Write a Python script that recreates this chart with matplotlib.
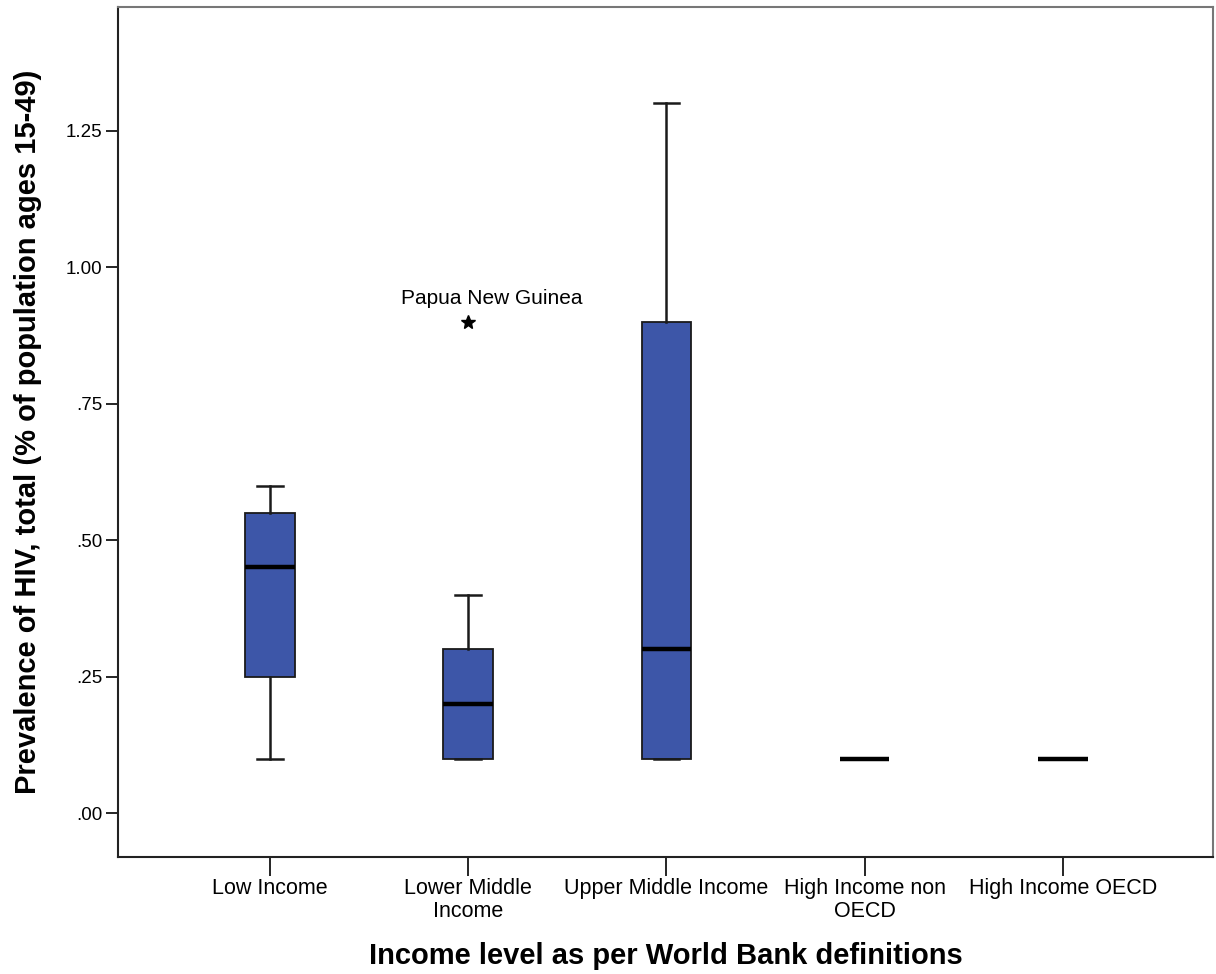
import matplotlib.pyplot as plt

# summary values
categories = ['Low Income', 'Lower Middle\nIncome', 'Upper Middle Income',
              'High Income non\nOECD', 'High Income OECD']
whislo = [0.10, 0.10, 0.10, 0.10, 0.10]
q1 = [0.25, 0.10, 0.10, 0.10, 0.10]
med = [0.45, 0.20, 0.30, 0.10, 0.10]
q3 = [0.55, 0.30, 0.90, 0.10, 0.10]
whishi = [0.60, 0.40, 1.30, 0.10, 0.10]
outliers = [[], [0.90], [], [], []]
outlier_labels = ['Papua New Guinea']

yticks = [0, 0.25, 0.5, 0.75, 1.0, 1.25]
ytick_labels = ['.00', '.25', '.50', '.75', '1.00', '1.25']

plt.rcParams['font.family'] = ['Liberation Sans', 'DejaVu Sans']

stats = []
for i in range(len(categories)):
    stats.append(dict(whislo=whislo[i], q1=q1[i], med=med[i], q3=q3[i],
                      whishi=whishi[i], fliers=outliers[i]))

fig = plt.figure(figsize=(12.16, 9.74), dpi=100)
ax = fig.add_axes([0.097, 0.12, 0.9005, 0.873])

positions = list(range(1, len(categories) + 1))
ax.bxp(stats, positions=positions, widths=0.25, patch_artist=True,
       showfliers=True,
       boxprops=dict(facecolor='#3d56a8', edgecolor='#1a1a1a', linewidth=1.3),
       medianprops=dict(color='black', linewidth=3.2),
       whiskerprops=dict(color='#1a1a1a', linewidth=1.8),
       capprops=dict(color='#1a1a1a', linewidth=1.8),
       capwidths=0.13,
       flierprops=dict(marker='*', markersize=10, markerfacecolor='black',
                       markeredgecolor='black'))

# label the extreme point
ax.annotate(outlier_labels[0], xy=(positions[1], outliers[1][0]),
            xytext=(17, 17), textcoords='offset points',
            ha='center', va='center', fontsize=15)

ax.set_xlim(0.233, 5.757)
ax.set_ylim(-0.0806, 1.477)
ax.set_yticks(yticks)
ax.set_yticklabels(ytick_labels)
ax.set_xticks(positions)
ax.set_xticklabels(categories, linespacing=1.1)

ax.tick_params(axis='y', length=9, width=1.2, labelsize=13.5, pad=2)
ax.tick_params(axis='x', length=14, width=1.2, labelsize=15.5, pad=1)

for side in ['left', 'bottom']:
    ax.spines[side].set_color('#222222')
    ax.spines[side].set_linewidth(1.5)
for side in ['top', 'right']:
    ax.spines[side].set_color('#777777')
    ax.spines[side].set_linewidth(1.5)

ax.set_xlabel('Income level as per World Bank definitions', fontsize=21,
              fontweight='bold', labelpad=15)
ax.set_ylabel('Prevalence of HIV, total (% of population ages 15-49)',
              fontsize=21, fontweight='bold', labelpad=17)

fig.savefig('out.png', dpi=100)
